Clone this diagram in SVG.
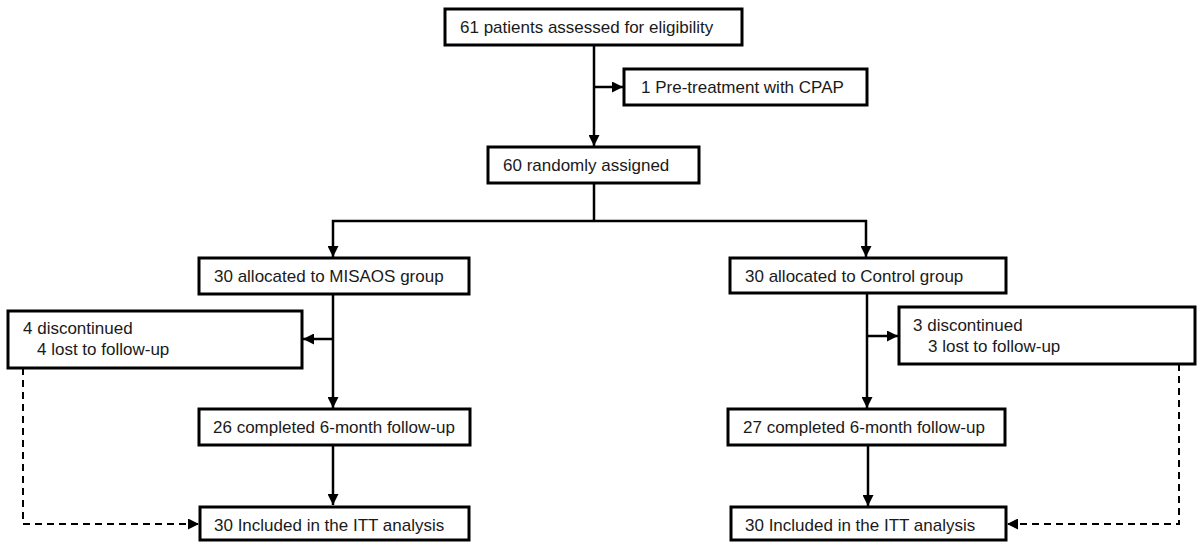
<svg xmlns="http://www.w3.org/2000/svg" width="1197" height="542" viewBox="0 0 1197 542">
<style>
.box{fill:#fff;stroke:#000;stroke-width:3}
.t{font-family:"Liberation Sans",Arial,sans-serif;font-size:17px;fill:#1a1a1a}
.c{fill:none;stroke:#000;stroke-width:2.5}
.d{fill:none;stroke:#000;stroke-width:2;stroke-dasharray:7 5}
</style>
<defs>
<marker id="ah" viewBox="0 0 10 10" refX="10" refY="5" markerWidth="11" markerHeight="11" markerUnits="userSpaceOnUse" orient="auto">
<path d="M0,0 L10,5 L0,10 z" fill="#000"/>
</marker>
</defs>
<rect width="1197" height="542" fill="#fff"/>
<g id="connectors">
<path class="c" d="M594,45 V146" marker-end="url(#ah)"/>
<path class="c" d="M594,87 H623" marker-end="url(#ah)"/>
<path class="c" d="M594,183 V221"/>
<path class="c" d="M594,221 H333 V257" marker-end="url(#ah)"/>
<path class="c" d="M594,221 H866 V257" marker-end="url(#ah)"/>
<path class="c" d="M333,294 V408" marker-end="url(#ah)"/>
<path class="c" d="M333,339 H303" marker-end="url(#ah)"/>
<path class="c" d="M333,445 V505" marker-end="url(#ah)"/>
<path class="c" d="M867,293 V408" marker-end="url(#ah)"/>
<path class="c" d="M867,336 H898" marker-end="url(#ah)"/>
<path class="c" d="M868,445 V506" marker-end="url(#ah)"/>
<path class="d" d="M23,368 V524 H199" marker-end="url(#ah)"/>
<path class="d" d="M1179,364 V524 H1007" marker-end="url(#ah)"/>
</g>
<g id="n1"><rect class="box" x="445" y="9" width="297" height="36"/><text class="t" x="460" y="33">61 patients assessed for eligibility</text></g>
<g id="n2"><rect class="box" x="624" y="69" width="243" height="36"/><text class="t" x="641" y="93">1 Pre-treatment with CPAP</text></g>
<g id="n3"><rect class="box" x="488" y="147" width="211" height="36"/><text class="t" x="503" y="171">60 randomly assigned</text></g>
<g id="n4"><rect class="box" x="199" y="258" width="270" height="36"/><text class="t" x="214" y="282">30 allocated to MISAOS group</text></g>
<g id="n5"><rect class="box" x="730" y="258" width="276" height="35"/><text class="t" x="745" y="282">30 allocated to Control group</text></g>
<g id="n6"><rect class="box" x="8" y="311" width="294" height="57"/><text class="t" x="23" y="334">4 discontinued</text><text class="t" x="37" y="355">4 lost to follow-up</text></g>
<g id="n7"><rect class="box" x="899" y="307" width="296" height="57"/><text class="t" x="913" y="331">3 discontinued</text><text class="t" x="928" y="352">3 lost to follow-up</text></g>
<g id="n8"><rect class="box" x="199" y="409" width="271" height="36"/><text class="t" x="213" y="433">26 completed 6-month follow-up</text></g>
<g id="n9"><rect class="box" x="728" y="409" width="277" height="36"/><text class="t" x="743" y="433">27 completed 6-month follow-up</text></g>
<g id="n10"><rect class="box" x="200" y="507" width="269" height="33"/><text class="t" x="214" y="531">30 Included in the ITT analysis</text></g>
<g id="n11"><rect class="box" x="731" y="507" width="275" height="33"/><text class="t" x="745" y="531">30 Included in the ITT analysis</text></g>
</svg>
